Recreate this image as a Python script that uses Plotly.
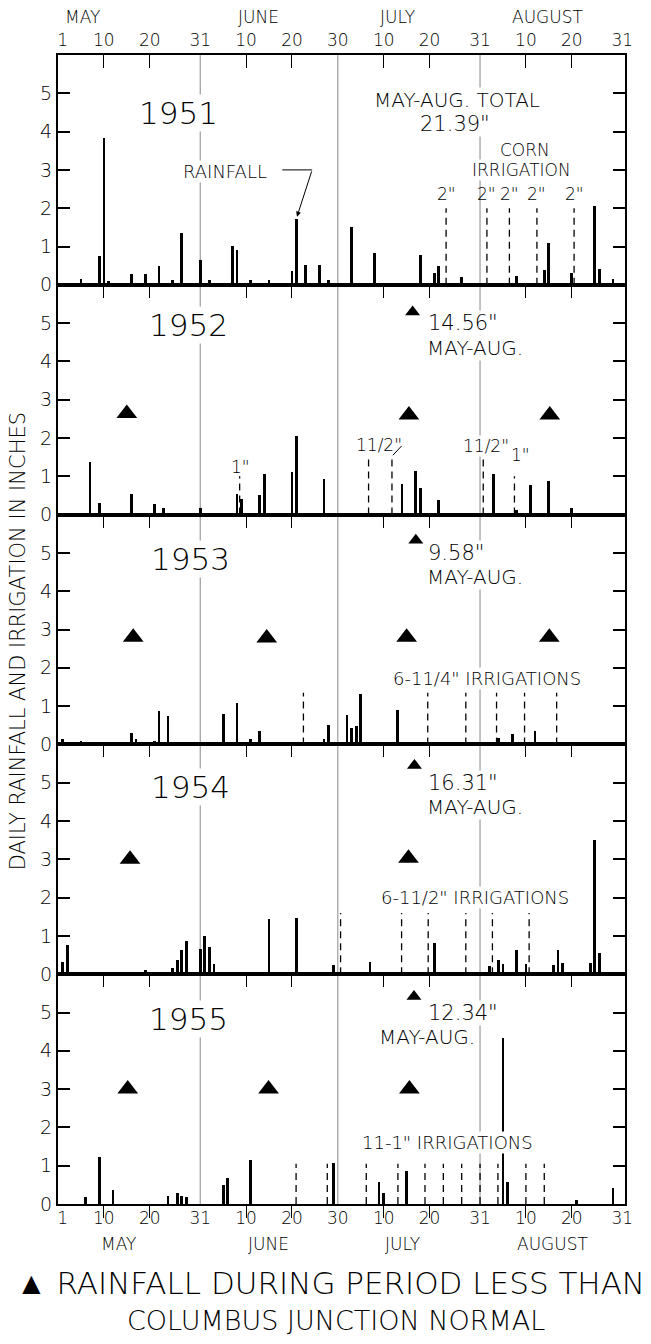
import plotly.graph_objects as go

# ---------------- data (day 1 = May 1, day 123 = Aug 31) ----------------
years = ["1951", "1952", "1953", "1954", "1955"]

rain_days_1951 = [5, 9, 10, 11, 16, 19, 22, 25, 27, 31, 33, 38, 39, 42, 46, 51, 52, 54, 57, 59,
                  64, 69, 79, 82, 83, 88, 100, 106, 107, 112, 117, 118, 121]
rain_in_1951 = [0.16, 0.75, 3.84, 0.09, 0.29, 0.29, 0.49, 0.13, 1.35, 0.64, 0.13, 1.02, 0.91, 0.12,
                0.13, 0.35, 1.73, 0.53, 0.53, 0.13, 1.52, 0.82, 0.77, 0.31, 0.49, 0.20, 0.24, 0.38,
                1.08, 0.31, 2.06, 0.42, 0.16]
irr_days_1951 = [84.6, 93.5, 98.4, 104.4, 112.5]
irr_in_1951 = [2.0, 2.0, 2.0, 2.0, 2.0]

rain_days_1952 = [7, 9, 16, 21, 23, 31, 39, 40, 44, 45, 51, 52, 58, 75, 78, 79, 83, 95, 100, 103, 107, 112]
rain_in_1952 = [1.38, 0.31, 0.55, 0.29, 0.17, 0.17, 0.55, 0.42, 0.51, 1.07, 1.12, 2.05, 0.94, 0.81,
                1.14, 0.71, 0.38, 1.07, 0.13, 0.77, 0.88, 0.17]
irr_days_1952 = [39.6, 67.7, 72.8, 92.7, 99.5]
irr_in_1952 = [1.0, 1.5, 1.5, 1.5, 1.0]

rain_days_1953 = [1, 5, 16, 17, 21, 22, 24, 36, 39, 42, 44, 58, 59, 63, 64, 65, 66, 74, 96, 99, 104]
rain_in_1953 = [0.16, 0.11, 0.30, 0.16, 0.11, 0.87, 0.74, 0.81, 1.10, 0.16, 0.36, 0.16, 0.52, 0.79,
                0.45, 0.48, 1.33, 0.91, 0.17, 0.27, 0.35]
irr_days_1953 = [53.5, 80.6, 88.9, 95.6, 101.7, 108.7]
irr_in_1953 = [1.35, 1.35, 1.35, 1.35, 1.35, 1.35]

rain_days_1954 = [1, 2, 19, 25, 26, 27, 28, 31, 32, 33, 34, 46, 52, 60, 68, 82, 94, 96, 97, 100,
                  102, 108, 109, 110, 116, 117, 118]
rain_in_1954 = [0.30, 0.75, 0.10, 0.15, 0.35, 0.62, 0.85, 0.65, 1.00, 0.70, 0.25, 1.43, 1.47, 0.23,
                0.32, 0.80, 0.20, 0.35, 0.25, 0.62, 0.26, 0.22, 0.62, 0.29, 0.29, 3.50, 0.55]
irr_days_1954 = [61.6, 74.9, 80.7, 88.9, 94.7, 102.7]
irr_in_1954 = [1.6, 1.6, 1.6, 1.6, 1.6, 1.6]

rain_days_1955 = [6, 9, 12, 24, 26, 27, 28, 36, 37, 42, 60, 70, 71, 76, 97, 98, 113, 121]
rain_in_1955 = [0.17, 1.22, 0.37, 0.20, 0.28, 0.20, 0.18, 0.48, 0.67, 1.15, 1.07, 0.57, 0.28, 0.85,
                4.33, 0.57, 0.10, 0.41]
irr_days_1955 = [51.9, 58.7, 67.2, 74.1, 80.0, 84.0, 88.0, 92.0, 95.9, 102.0, 106.0]
irr_in_1955 = [1.05] * 11

# triangles: rainfall during period less than normal
tri_days = {"1952": [15.0, 76.5, 107.2], "1953": [16.4, 45.5, 76.0, 107.1],
            "1954": [15.7, 76.4], "1955": [15.2, 45.9, 76.6]}
tri_y = {"1952": [2.64, 2.6, 2.6], "1953": [2.8, 2.78, 2.8, 2.8],
         "1954": [3.0, 3.03], "1955": [3.0, 3.0, 3.0]}
small_tri_day = {"1952": 77.3, "1953": 78.0, "1954": 77.7, "1955": 77.6}
small_tri_y = {"1952": 5.29, "1953": 5.33, "1954": 5.45, "1955": 5.42}

totals = {"1952": '14.56"', "1953": '9.58"', "1954": '16.31"', "1955": '12.34"'}

tick_days = [1, 10, 20, 31, 41, 51, 61, 71, 81, 92, 102, 112, 123]
tick_text = ["1", "10", "20", "31", "10", "20", "30", "10", "20", "31", "10", "20", "31"]
minor_days = [10, 20, 41, 51, 71, 81, 102, 112]
month_ends = [31, 61, 92]
months = ["MAY", "JUNE", "JULY", "AUGUST"]
month_top_x = [5.3, 43.6, 74.1, 106.8]
month_bot_x = [13.1, 45.8, 75.0, 107.9]

rain = {"1951": (rain_days_1951, rain_in_1951), "1952": (rain_days_1952, rain_in_1952),
        "1953": (rain_days_1953, rain_in_1953), "1954": (rain_days_1954, rain_in_1954),
        "1955": (rain_days_1955, rain_in_1955)}
irr = {"1951": (irr_days_1951, irr_in_1951), "1952": (irr_days_1952, irr_in_1952),
       "1953": (irr_days_1953, irr_in_1953), "1954": (irr_days_1954, irr_in_1954),
       "1955": (irr_days_1955, irr_in_1955)}

FONT = "DejaVu Sans"
W = 200  # light weight if available
XR = [0, 123.6]
YR = [0, 6.0]

fig = go.Figure()
layout = {}
annotations = []
shapes = []

for i, yr in enumerate(years):
    n = i + 1
    xa = "x" if n == 1 else f"x{n}"
    ya = "y" if n == 1 else f"y{n}"
    dlo = 1 - (n) * 0.2
    dhi = 1 - (n - 1) * 0.2
    # rainfall bars
    d, v = rain[yr]
    fig.add_trace(go.Bar(x=d, y=v, width=0.6, marker=dict(color="black", line=dict(width=0)),
                         xaxis=xa, yaxis=ya, showlegend=False))
    # irrigation dashed lines
    idays, iin = irr[yr]
    lx, ly = [], []
    for dd, hh in zip(idays, iin):
        lx += [dd, dd, None]
        ly += [0, hh, None]
    fig.add_trace(go.Scatter(x=lx, y=ly, mode="lines", line=dict(color="black", width=1.3, dash="7px,5px"),
                             xaxis=xa, yaxis=ya, showlegend=False))
    if yr in tri_days:
        fig.add_trace(go.Scatter(x=tri_days[yr], y=tri_y[yr], mode="markers",
                                 marker=dict(symbol="triangle-up", size=18, color="black"),
                                 xaxis=xa, yaxis=ya, showlegend=False))
        fig.add_trace(go.Scatter(x=[small_tri_day[yr]], y=[small_tri_y[yr]], mode="markers",
                                 marker=dict(symbol="triangle-up", size=13, color="black"),
                                 xaxis=xa, yaxis=ya, showlegend=False))

    xkey = "xaxis" if n == 1 else f"xaxis{n}"
    ykey = "yaxis" if n == 1 else f"yaxis{n}"
    layout[xkey] = dict(range=XR, anchor=ya, side="top", showline=True, linecolor="black", linewidth=2,
                        mirror=True, showgrid=False, zeroline=False, fixedrange=True,
                        tickmode="array", tickvals=tick_days, ticktext=tick_text, ticks="",
                        showticklabels=(n == 1),
                        tickfont=dict(family=FONT, size=17, color="black", weight=W),
                        minor=dict(tickmode="array", tickvals=minor_days, ticks="inside",
                                   ticklen=13, tickwidth=1.2, tickcolor="black", showgrid=False))
    if n > 1:
        layout[xkey]["matches"] = "x"
    layout[ykey] = dict(domain=[dlo, dhi], range=YR, anchor=xa, showline=True, linecolor="black",
                        linewidth=2, mirror="ticks", ticks="inside", ticklen=12, tickwidth=1.5,
                        tickcolor="black", tickmode="array", tickvals=[0, 1, 2, 3, 4, 5],
                        showgrid=False, zeroline=False,
                        tickfont=dict(family=FONT, size=19, color="black", weight=W))
    # month boundary lines
    for me in month_ends:
        shapes.append(dict(type="line", xref=xa, yref=f"{ya} domain", x0=me, x1=me, y0=0, y1=1,
                           line=dict(color="#888888", width=1), layer="below"))

# bottom axis labels for 1955
fig.add_trace(go.Scatter(x=[None], y=[None], xaxis="x6", yaxis="y5", showlegend=False))
layout["xaxis6"] = dict(range=XR, overlaying="x5", anchor="y5", side="bottom", showline=False,
                        showgrid=False, zeroline=False, tickmode="array", tickvals=tick_days,
                        ticktext=tick_text, ticks="", ticklabelstandoff=2,
                        tickfont=dict(family=FONT, size=17, color="black", weight=W),
                        minor=dict(tickmode="array", tickvals=minor_days, ticks="outside",
                                   ticklen=13, tickwidth=1.2, tickcolor="black"))


def ann(text, x, y, xref, yref, size, xanchor="center", bg=None, **kw):
    a = dict(text=text, x=x, y=y, xref=xref, yref=yref, showarrow=False, xanchor=xanchor,
             yanchor="middle", font=dict(family=FONT, size=size, color="black", weight=W))
    if bg:
        a["bgcolor"] = bg
        a["borderpad"] = 0
    a.update(kw)
    annotations.append(a)


# month names
for m, xt, xb in zip(months, month_top_x, month_bot_x):
    ann(m, xt, 1.033, "x", "paper", 17)
    ann(m, xb, -0.035, "x6", "paper", 17)

# year labels
year_pos = {"1951": (26.2, 4.49), "1952": (28.4, 4.96), "1953": (28.8, 4.85),
            "1954": (28.8, 4.89), "1955": (28.4, 4.83)}
for i, yr in enumerate(years):
    n = i + 1
    xa = "x" if n == 1 else f"x{n}"
    ya = "y" if n == 1 else f"y{n}"
    ann(yr, year_pos[yr][0], year_pos[yr][1], xa, ya, 31, bg="white")
    if yr in totals:
        ann(totals[yr], 80.5, 5.0, xa, ya, 21, xanchor="left", bg="white")
        mx = 69.8 if yr == "1955" else 80.2
        ann("MAY-AUG.", mx, 4.36, xa, ya, 20, xanchor="left", bg="white")

# 1951 texts
ann("MAY-AUG. TOTAL", 87.0, 4.83, "x", "y", 20, bg="white")
ann('21.39"', 86.6, 4.2, "x", "y", 21, bg="white")
ann("CORN", 101.8, 3.52, "x", "y", 17, bg="white")
ann("IRRIGATION", 101.0, 3.0, "x", "y", 17, bg="white")
for dd in irr_days_1951:
    ann('2"', dd, 2.38, "x", "y", 17)
ann("RAINFALL", 36.4, 2.97, "x", "y", 18, bg="white")
shapes.append(dict(type="line", xref="x", yref="y", x0=48.9, x1=55.4, y0=3.0, y1=3.0,
                   line=dict(color="black", width=1)))
annotations.append(dict(x=52.1, y=1.78, ax=55.4, ay=3.0, xref="x", yref="y", axref="x", ayref="y",
                        text="", showarrow=True, arrowhead=2, arrowsize=1, arrowwidth=1,
                        arrowcolor="black"))

# 1952 irrigation labels
ann('1"', 39.7, 1.25, "x2", "y2", 17)
annotations.append(dict(x=67.9, y=1.55, ax=70.0, ay=1.83, xref="x2", yref="y2", axref="x2",
                        ayref="y2", text='11/2"', showarrow=True, arrowhead=0, arrowwidth=1,
                        arrowcolor="black", font=dict(family=FONT, size=17, color="black", weight=W)))
annotations.append(dict(x=73.0, y=1.55, ax=75.2, ay=1.83, xref="x2", yref="y2", axref="x2",
                        ayref="y2", text="", showarrow=True, arrowhead=0, arrowwidth=1,
                        arrowcolor="black"))
ann('11/2"', 93.3, 1.8, "x2", "y2", 17, bg="white")
ann('1"', 100.8, 1.55, "x2", "y2", 17)

# irrigation summary texts
ann('6-11/4" IRRIGATIONS', 93.5, 1.73, "x3", "y3", 18, bg="white")
ann('6-11/2" IRRIGATIONS', 91.0, 2.0, "x4", "y4", 18, bg="white")
ann('11-1" IRRIGATIONS', 85.0, 1.61, "x5", "y5", 18, bg="white")

# y-axis title
ann("DAILY RAINFALL AND IRRIGATION IN INCHES", -0.07, 0.49, "paper", "paper", 21, textangle=-90)

# caption
ann("▲ RAINFALL DURING PERIOD LESS THAN", 0.48, -0.069, "paper", "paper", 31)
ann("COLUMBUS JUNCTION NORMAL", 0.49, -0.101, "paper", "paper", 27)

fig.update_layout(**layout)
fig.update_layout(width=651, height=1344, margin=dict(l=58, r=26, t=55, b=140),
                  paper_bgcolor="white", plot_bgcolor="white", bargap=0,
                  annotations=annotations, shapes=shapes, showlegend=False)

fig.write_html("out.html")
